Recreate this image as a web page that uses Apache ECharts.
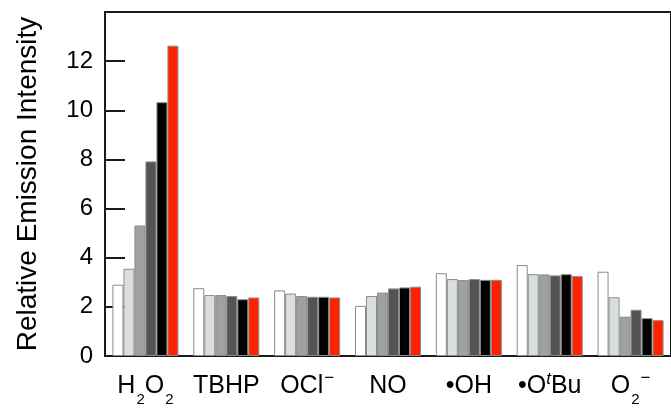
<!DOCTYPE html>
<html>
<head>
<meta charset="utf-8">
<script src="https://cdn.jsdelivr.net/npm/echarts@6/dist/echarts.min.js"></script>
<style>
  html, body { margin: 0; padding: 0; background: #fff; }
  #chart { width: 671px; height: 410px; }
</style>
</head>
<body>
<div id="chart"></div>
<script>
  // analytes on the x axis (rich-text labels for sub/superscripts)
  const categories = ["H2O2", "TBHP", "OCl-", "NO", "OH", "OtBu", "O2-"];
  const catLabels = [
    "{n|H}{s|2}{n|O}{s|2}",
    "{n|TBHP}",
    "{n|OCl}{p|\u2212}",
    "{n|NO}",
    "{n|\u2022OH}",
    "{n|\u2022O}{t|t}{n|Bu}",
    "{n|O}{s|2}{p|\u2212}",
  ];

  // six bars per analyte, light to dark, then red
  const white = [2.90, 2.76, 2.67, 2.04, 3.37, 3.70, 3.43];
  const light = [3.55, 2.48, 2.54, 2.44, 3.13, 3.33, 2.39];
  const mid   = [5.31, 2.48, 2.44, 2.58, 3.09, 3.32, 1.60];
  const dark  = [7.92, 2.44, 2.41, 2.75, 3.13, 3.28, 1.88];
  const black = [10.33, 2.31, 2.41, 2.79, 3.10, 3.33, 1.54];
  const red   = [12.63, 2.38, 2.38, 2.82, 3.10, 3.25, 1.46];

  const yTicks = [0, 2, 4, 6, 8, 10, 12];

  const INK = "#1a1a1a";
  const FONT = "Liberation Sans";

  const bars = [
    [white, "#ffffff"],
    [light, "#d9dedf"],
    [mid, "#a0a0a0"],
    [dark, "#545454"],
    [black, "#000000"],
    [red, "#ff2200"],
  ].map(([data, color]) => ({
    type: "bar",
    data,
    barWidth: 11,
    barGap: 0,
    itemStyle: { color, borderColor: "#8c8c8c", borderWidth: 1 },
  }));

  const chart = echarts.init(document.getElementById("chart"));
  chart.setOption({
    backgroundColor: "#fff",
    animation: false,
    grid: {
      left: 105, top: 12, width: 574, height: 344,
      show: true, borderColor: INK, borderWidth: 2,
    },
    xAxis: {
      type: "category",
      data: categories,
      axisLine: { lineStyle: { color: INK, width: 2 } },
      axisTick: { inside: true, length: 20, lineStyle: { color: INK, width: 2 } },
      axisLabel: {
        interval: 0,
        margin: 18,
        formatter: (v, i) => catLabels[i],
        rich: {
          n: { fontFamily: FONT, fontSize: 25, color: "#000", lineHeight: 27, verticalAlign: "top" },
          s: { fontFamily: FONT, fontSize: 15, color: "#000", lineHeight: 15, verticalAlign: "top", padding: [18, 0, 0, 1] },
          p: { fontFamily: FONT, fontSize: 17, color: "#000", lineHeight: 17, verticalAlign: "top", padding: [-4, 0, 0, 1] },
          t: { fontFamily: FONT, fontSize: 17, fontStyle: "italic", color: "#000", lineHeight: 17, verticalAlign: "top", padding: [-3, 0, 0, 0] },
        },
      },
    },
    yAxis: {
      type: "value",
      min: 0,
      max: 14,
      interval: 2,
      name: "Relative Emission Intensity",
      nameLocation: "middle",
      nameRotate: 90,
      nameGap: 63,
      nameTextStyle: { fontFamily: FONT, fontSize: 28, color: "#000" },
      splitLine: { show: false },
      axisLine: { show: true, lineStyle: { color: INK, width: 2 } },
      axisTick: { show: true, inside: true, length: 20, lineStyle: { color: INK, width: 2 } },
      axisLabel: {
        margin: 12,
        fontFamily: FONT,
        fontSize: 24,
        color: "#000",
        formatter: (v) => (yTicks.includes(v) ? String(v) : ""),
      },
    },
    series: bars,
  });
</script>
</body>
</html>
